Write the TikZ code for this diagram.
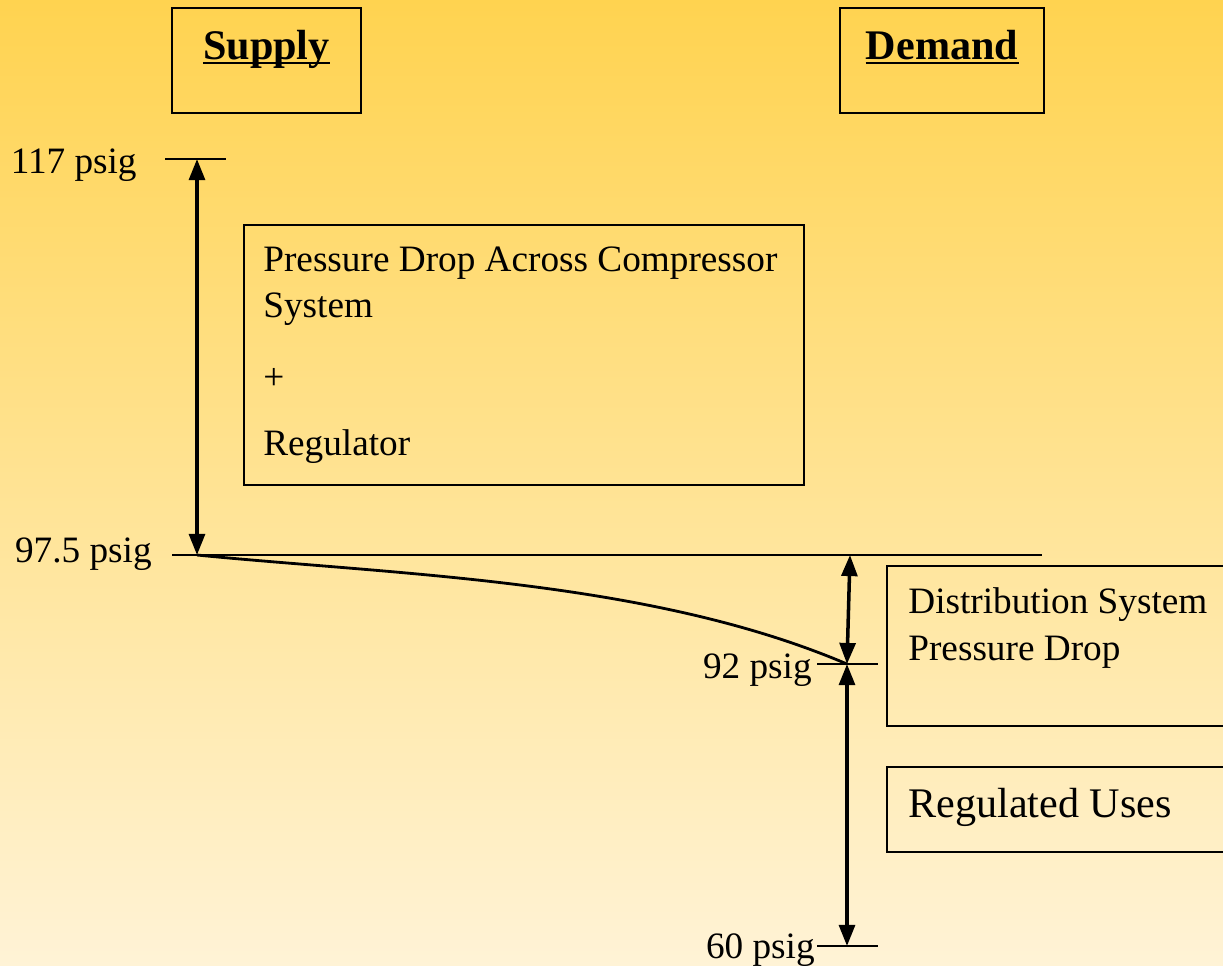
\documentclass[tikz,border=0pt]{standalone}
\usepackage{fontspec}
\setmainfont{Liberation Serif}
\usepackage{xcolor}
\usetikzlibrary{arrows.meta, positioning}
\definecolor{bgtop}{HTML}{FFD350}
\definecolor{bgbottom}{HTML}{FFF3D6}
\tikzset{
    panel/.style={rectangle, draw=black, line width=0.8pt, inner sep=0pt},
    txt/.style={inner sep=0pt, font=\fontsize{21.2}{26.7}\selectfont, align=left},
    head/.style={inner sep=0pt, font=\fontsize{24}{30}\selectfont\bfseries},
    level/.style={line width=1.1pt},
    dimarrow/.style={arrows={Triangle[length=12pt,width=9pt]-Triangle[length=12pt,width=9pt]}, line width=2pt},
    drop/.style={line width=1.6pt}
}

\begin{document}
\begin{tikzpicture}[x=0.02cm, y=-0.02cm]
    \useasboundingbox (0,0) rectangle (1223,965);
    \shade[top color=bgtop, bottom color=bgbottom] (0,0) rectangle (1223,965);

    % Headings
    \node[panel, minimum width=3.78cm, minimum height=2.1cm] (supplybox) at (266.5,60.5) {};
    \node[head, anchor=base] (supply) at (266.5,59) {Supply};
    \draw[line width=1pt] ([yshift=-2.3pt]supply.base west) -- ([yshift=-2.3pt]supply.base east);
    \node[panel, minimum width=4.08cm, minimum height=2.1cm] (demandbox) at (942,60.5) {};
    \node[head, anchor=base] (demand) at (942,59) {Demand};
    \draw[line width=1pt] ([yshift=-2.3pt]demand.base west) -- ([yshift=-2.3pt]demand.base east);

    % Pressure levels
    \coordinate (p117a) at (165,159);
    \coordinate (p117b) at (226,159);
    \coordinate (p975a) at (172,555);
    \coordinate (p975b) at (1042,555);
    \coordinate (p92a) at (817,664);
    \coordinate (p92b) at (878,664);
    \coordinate (p60a) at (817,946);
    \coordinate (p60b) at (878,946);
    \draw[level] (p117a) -- (p117b);
    \draw[level] (p975a) -- (p975b);
    \draw[level] (p92a) -- (p92b);
    \draw[level] (p60a) -- (p60b);
    \node[txt, anchor=base east] (lbl117) at (137,173) {117 psig};
    \node[txt, anchor=base east] (lbl975) at (152,562) {97.5 psig};
    \node[txt, anchor=base east] (lbl92) at (812,678) {92 psig};
    \node[txt, anchor=base east] (lbl60) at (815,958) {60 psig};

    % Supply side drop
    \coordinate (s1) at (197,159);
    \coordinate (s2) at (197,555);
    \draw[dimarrow] (s1) -- (s2);
    \node[panel, minimum width=11.2cm, minimum height=5.2cm] (compbox) at (524,355) {};
    \node[txt, anchor=north west] (comptext) at (263,246)
        {Pressure Drop Across Compressor\\System\\[14.2pt]+\\[10.8pt]Regulator};

    % Demand side drop
    \coordinate (d1) at (850,555);
    \coordinate (d2) at (847,664);
    \coordinate (d3) at (847,946);
    \draw[drop] (s2) .. controls (400,575) and (650,580) .. (d2);
    \draw[dimarrow] (d1) -- (d2);
    \draw[dimarrow] (d2) -- (d3);

    \node[panel, minimum width=6.86cm, minimum height=3.2cm] (distbox) at (1058.5,646) {};
    \node[txt, anchor=north west] (disttext) at (908,587) {Distribution System\\Pressure Drop};
    \node[panel, minimum width=6.86cm, minimum height=1.7cm] (regbox) at (1058.5,809.5) {};
    \node[txt, anchor=base west, font=\fontsize{24}{30}\selectfont] (regtext) at (908,817) {Regulated Uses};
\end{tikzpicture}
\end{document}
